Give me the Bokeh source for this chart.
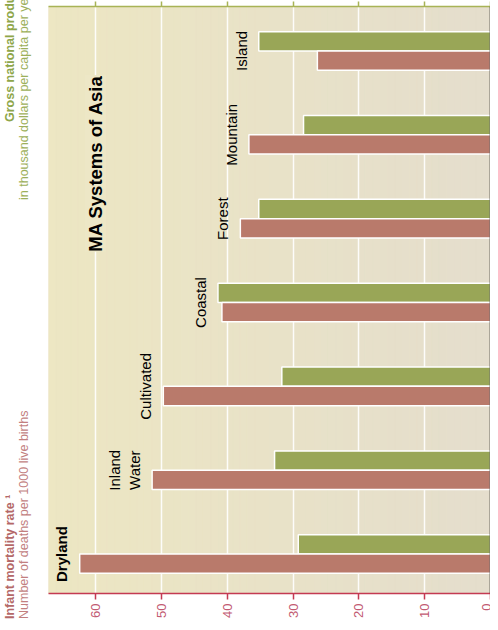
import math
import numpy as np
from bokeh.plotting import figure
from bokeh.layouts import row
from bokeh.models import Range1d, LinearAxis, FixedTicker, Span, Label, ColumnDataSource, Div
from bokeh.core.properties import value
from bokeh.embed import file_html
from bokeh.resources import INLINE

# ---- data ----
systems = ["Dryland", "Inland\nWater", "Cultivated", "Coastal", "Forest", "Mountain", "Island"]
infant_mortality = [62.4, 51.4, 49.7, 40.8, 38.0, 36.7, 26.3]      # deaths per 1000 live births
gnp_per_capita = [2.92, 3.28, 3.17, 4.14, 3.52, 2.84, 3.52]         # thousand dollars per capita per year
mortality_ticks = [0, 10, 20, 30, 40, 50, 60]
gnp_ticks = [0, 1, 2, 3, 4, 5, 6]

# ---- styles ----
RED = "#b97a6b"
GREEN = "#99a657"
AXIS_RED = "#c43a52"
TICK_RED = "#c25a72"
AXIS_GREEN = "#a8b356"
FONT = "Liberation Sans"

X_MAX = 67.14
N_CAT = len(systems)
W_LEFT, W_MAIN, H = 48, 442, 622

# ---------------- main chart ----------------
p = figure(width=W_MAIN, height=H,
           x_range=Range1d(X_MAX, 0), y_range=Range1d(0, N_CAT),
           output_backend="svg", toolbar_location=None, y_axis_location=None,
           min_border_left=0, min_border_right=0, min_border_top=6, min_border_bottom=29)
p.extra_x_ranges = {"gnp": Range1d(X_MAX / 10.0, 0)}
p.border_fill_color = "white"
p.outline_line_color = None
p.background_fill_color = "#e9e2c8"

# background gradient strips (left yellowish -> right greyish)
n_strips = 60
edges = np.linspace(X_MAX, 0, n_strips + 1)
c0 = np.array([237, 231, 195])
c1 = np.array([229, 222, 205])
cols = []
for k in range(n_strips):
    t = k / (n_strips - 1)
    c = (c0 * (1 - t) + c1 * t).astype(int)
    cols.append("#%02x%02x%02x" % tuple(c))
p.quad(left=edges[:-1], right=edges[1:], bottom=0, top=N_CAT, fill_color=cols,
       line_color=cols, line_width=0.5, level="image")

# axes
p.ygrid.visible = False
xa = p.xaxis[0]
xa.ticker = FixedTicker(ticks=mortality_ticks)
xa.axis_line_color = AXIS_RED
xa.axis_line_width = 1.5
xa.major_tick_line_color = AXIS_RED
xa.major_tick_line_width = 1.5
xa.major_tick_out = 6
xa.major_tick_in = 0
xa.minor_tick_line_color = None
xa.major_label_orientation = math.pi / 2
xa.major_label_text_color = TICK_RED
xa.major_label_text_font = FONT
xa.major_label_text_font_size = "13px"
xa.major_label_standoff = 4

p.xgrid.ticker = FixedTicker(ticks=mortality_ticks)
p.xgrid.grid_line_color = "white"
p.xgrid.grid_line_width = 1.5
p.xgrid.grid_line_alpha = 0.9

top_axis = LinearAxis(x_range_name="gnp", ticker=FixedTicker(ticks=gnp_ticks))
top_axis.axis_line_color = AXIS_GREEN
top_axis.axis_line_width = 1.5
top_axis.major_tick_line_color = AXIS_GREEN
top_axis.major_tick_line_width = 1.5
top_axis.major_tick_out = 5
top_axis.major_tick_in = 0
top_axis.minor_tick_line_color = None
top_axis.major_label_overrides = {t: "" for t in gnp_ticks}
top_axis.major_label_text_font_size = "1px"
top_axis.major_label_standoff = 0
p.add_layout(top_axis, "above")

# bars
idx = np.arange(N_CAT)
BAR_H = 0.23
src = ColumnDataSource(dict(
    y_gnp=idx + 0.585, y_mort=idx + 0.355,
    mort=infant_mortality, gnp=gnp_per_capita, name=systems,
))
p.hbar(y="y_gnp", left=0, right="gnp", height=BAR_H, source=src, x_range_name="gnp",
       fill_color=GREEN, line_color="white", line_width=1.5)
p.hbar(y="y_mort", left=0, right="mort", height=BAR_H, source=src,
       fill_color=RED, line_color="white", line_width=1.5)

# zero line
p.add_layout(Span(location=0, dimension="height", line_color="black", line_width=1.5))

# category labels, placed just beyond the longer bar of each group
lab_x = [max(m, g * 10) + 1.4 for m, g in zip(infant_mortality, gnp_per_capita)]
lab_y = list(idx + 0.47)
bold_src = ColumnDataSource(dict(x=lab_x[:1], y=lab_y[:1], t=systems[:1]))
norm_src = ColumnDataSource(dict(x=lab_x[1:], y=lab_y[1:], t=systems[1:]))
p.text(x="x", y="y", text="t", source=bold_src, angle=math.pi / 2, text_align="center",
       text_baseline="bottom", text_font=value(FONT), text_font_size="15px",
       text_font_style="bold", text_color="black")
p.text(x="x", y="y", text="t", source=norm_src, angle=math.pi / 2, text_align="center",
       text_baseline="bottom", text_font=value(FONT), text_font_size="15px",
       text_color="black", text_line_height=1.15)

# chart title
p.add_layout(Label(x=60, y=5.13, text="MA Systems of Asia", angle=math.pi / 2,
                   text_align="center", text_baseline="middle", text_font=FONT,
                   text_font_size="18.5px", text_font_style="bold", text_color="black",
                   background_fill_color="#ede7c6"))

# ---------------- left strip with the rotated axis titles (HTML text) ----------------
titles = [
    # text, column centre x, start y (bottom end), colour, weight, size
    ("Infant mortality rate \u00b9", 10, 619, "#b46868", "bold", 12.5),
    ("Number of deaths per 1000 live births", 24, 619, "#c27f7f", "normal", 12.5),
    ("Gross national product", 10, 122, "#8ea64a", "bold", 12.5),
    ("in thousand dollars per capita per year", 24, 200, "#9cb05a", "normal", 12.5),
]
spans = []
for text, cx, sy, col, weight, size in titles:
    lh = size * 1.2
    spans.append(
        f'<span style="position:absolute; left:{cx - lh / 2:.1f}px; top:{sy}px; '
        f'transform-origin:0 0; transform:rotate(-90deg); white-space:nowrap; '
        f'line-height:{lh:.1f}px; font-family:\'{FONT}\'; font-size:{size}px; '
        f'font-weight:{weight}; color:{col};">{text}</span>'
    )
html = (f'<div style="position:relative; width:{W_LEFT}px; height:{H}px; overflow:hidden; '
        f'background:white;">' + "".join(spans) + '</div>')
left = Div(text=html, width=W_LEFT, height=H, margin=0)

layout = row(left, p, spacing=0)
open("out.html", "w").write(file_html(layout, INLINE))
